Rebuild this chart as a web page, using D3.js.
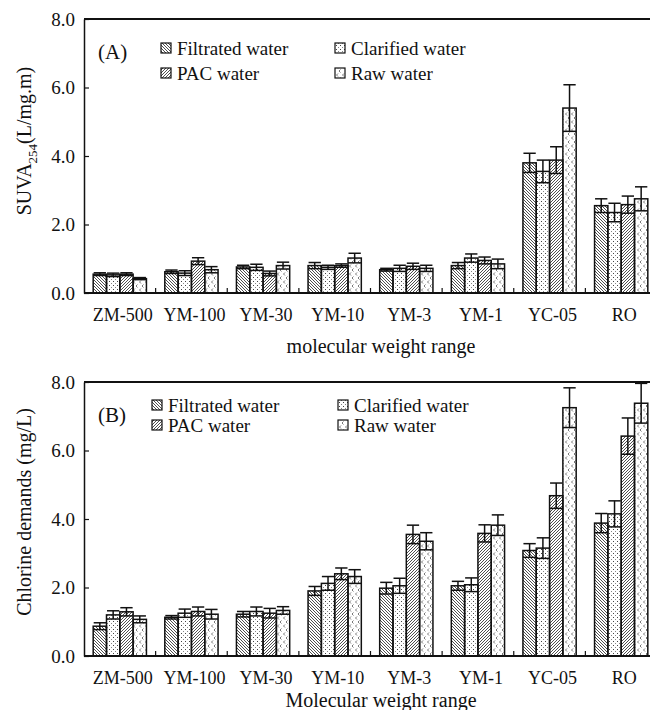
<!DOCTYPE html>
<html>
<head>
<meta charset="utf-8">
<script src="https://cdn.jsdelivr.net/npm/d3@7"></script>
<style>
	body { margin: 0; background: #fff; }
	svg { display: block; }
	svg text { font-family: "Liberation Serif", "Times New Roman", Times, serif; }
</style>
</head>
<body>
<svg id="chart" width="650" height="710"></svg>
<script>
var categories = ["ZM-500", "YM-100", "YM-30", "YM-10", "YM-3", "YM-1", "YC-05", "RO"];
var seriesNames = ["Filtrated water", "Clarified water", "PAC water", "Raw water"];
var yTicks = [0, 2, 4, 6, 8];

// panel A : SUVA254
var suvaFiltrated = [0.55, 0.62, 0.76, 0.80, 0.68, 0.80, 3.80, 2.55];
var suvaClarified = [0.53, 0.58, 0.75, 0.75, 0.72, 1.02, 3.55, 2.35];
var suvaPac = [0.55, 0.93, 0.57, 0.80, 0.78, 0.95, 3.88, 2.58];
var suvaRaw = [0.42, 0.68, 0.80, 1.02, 0.72, 0.85, 5.40, 2.75];
var suvaErrFiltrated = [0.04, 0.05, 0.05, 0.09, 0.04, 0.09, 0.28, 0.20];
var suvaErrClarified = [0.05, 0.07, 0.09, 0.06, 0.09, 0.12, 0.33, 0.27];
var suvaErrPac = [0.04, 0.10, 0.07, 0.05, 0.09, 0.10, 0.39, 0.25];
var suvaErrRaw = [0.03, 0.09, 0.10, 0.14, 0.09, 0.14, 0.68, 0.35];

// panel B : chlorine demand
var clFiltrated = [0.87, 1.13, 1.22, 1.90, 1.98, 2.05, 3.08, 3.88];
var clClarified = [1.20, 1.25, 1.30, 2.12, 2.05, 2.08, 3.15, 4.15];
var clPac = [1.29, 1.30, 1.25, 2.40, 3.55, 3.58, 4.68, 6.42];
var clRaw = [1.07, 1.22, 1.33, 2.32, 3.35, 3.82, 7.25, 7.38];
var clErrFiltrated = [0.10, 0.05, 0.08, 0.13, 0.17, 0.13, 0.20, 0.28];
var clErrClarified = [0.12, 0.12, 0.13, 0.20, 0.22, 0.20, 0.30, 0.38];
var clErrPac = [0.12, 0.13, 0.14, 0.17, 0.27, 0.25, 0.37, 0.53];
var clErrRaw = [0.10, 0.14, 0.11, 0.20, 0.25, 0.30, 0.58, 0.58];

var svg = d3.select("#chart");
var left = 84, right = 657, edge = 650;
var serif = "Liberation Serif, Times New Roman, Times, serif";

function makePatterns() {
	var defs = svg.append("defs");

	var p1 = defs.append("pattern").attr("id", "pat0")
		.attr("patternUnits", "userSpaceOnUse").attr("width", 3).attr("height", 3);
	p1.append("path").attr("d", "M-1,-1 L4,4 M-1,2 L1,4 M2,-1 L4,1")
		.attr("stroke", "#222").attr("stroke-width", 0.8);

	var p2 = defs.append("pattern").attr("id", "pat1")
		.attr("patternUnits", "userSpaceOnUse").attr("width", 4).attr("height", 4);
	p2.append("rect").attr("x", 1).attr("y", 1).attr("width", 1).attr("height", 1).attr("fill", "#444");
	p2.append("rect").attr("x", 3).attr("y", 3).attr("width", 1).attr("height", 1).attr("fill", "#888");

	var p3 = defs.append("pattern").attr("id", "pat2")
		.attr("patternUnits", "userSpaceOnUse").attr("width", 3).attr("height", 3);
	p3.append("path").attr("d", "M-1,4 L4,-1 M-1,1 L1,-1 M2,4 L4,2")
		.attr("stroke", "#222").attr("stroke-width", 0.8);

	var p4 = defs.append("pattern").attr("id", "pat3")
		.attr("patternUnits", "userSpaceOnUse").attr("width", 6).attr("height", 8);
	p4.append("path").attr("d", "M3,0.5 L1.5,2 L3,3.5 M5.5,4.5 L4,6 L5.5,7.5")
		.attr("stroke", "#555").attr("stroke-width", 0.8).attr("fill", "none");
}

function buildPanel(opts) {
	var g = svg.append("g").attr("class", "panel").attr("font-family", serif);

	var y = d3.scaleLinear().domain([0, 8]).range([opts.bottom, opts.top]);
	var x = d3.scaleBand().domain(categories).range([left, right]).padding(0);
	var xs = d3.scaleBand().domain(seriesNames).range([0, x.bandwidth()])
		.paddingInner(0).paddingOuter(0.69);

	var rows = [];
	categories.forEach(function(c, i) {
		opts.values.forEach(function(vals, s) {
			rows.push({ cat: c, series: s, name: seriesNames[s], v: vals[i], e: opts.errors[s][i] });
		});
	});

	// bars
	g.append("g").selectAll("rect")
		.data(rows)
		.enter()
		.append("rect")
		.attr("x", function(d) { return x(d.cat) + xs(d.name); })
		.attr("y", function(d) { return y(d.v); })
		.attr("width", xs.bandwidth())
		.attr("height", function(d) { return y(0) - y(d.v); })
		.attr("fill", function(d) { return "url(#pat" + d.series + ")"; })
		.attr("stroke", "#111")
		.attr("stroke-width", 1.5);

	// error bars (the lower cap sits inside the bar)
	var eb = g.append("g").selectAll("g")
		.data(rows)
		.enter()
		.append("g")
		.attr("stroke", "#111")
		.attr("stroke-width", 1.5);

	eb.append("line")
		.attr("x1", function(d) { return x(d.cat) + xs(d.name) + xs.bandwidth() / 2; })
		.attr("x2", function(d) { return x(d.cat) + xs(d.name) + xs.bandwidth() / 2; })
		.attr("y1", function(d) { return y(d.v - d.e); })
		.attr("y2", function(d) { return y(d.v + d.e); });
	eb.append("line")
		.attr("x1", function(d) { return x(d.cat) + xs(d.name) + 0.5; })
		.attr("x2", function(d) { return x(d.cat) + xs(d.name) + xs.bandwidth() - 0.5; })
		.attr("y1", function(d) { return y(d.v + d.e); })
		.attr("y2", function(d) { return y(d.v + d.e); });
	eb.append("line")
		.attr("x1", function(d) { return x(d.cat) + xs(d.name); })
		.attr("x2", function(d) { return x(d.cat) + xs(d.name) + xs.bandwidth(); })
		.attr("y1", function(d) { return y(d.v - d.e); })
		.attr("y2", function(d) { return y(d.v - d.e); });

	// axes
	var yAxis = d3.axisLeft(y).tickValues(yTicks)
		.tickFormat(d3.format(".1f"))
		.tickSizeInner(-5).tickSizeOuter(0).tickPadding(9);
	var ya = g.append("g").attr("transform", "translate(" + left + ",0)").call(yAxis)
		.attr("font-family", serif);
	ya.select(".domain").attr("stroke", "#111").attr("stroke-width", 1.5);
	ya.selectAll(".tick line").attr("stroke", "#111").attr("stroke-width", 1.2);
	ya.selectAll("text").attr("font-size", 19).attr("fill", "#111");

	var xAxis = d3.axisBottom(x).tickSize(0).tickPadding(15);
	var xa = g.append("g").attr("transform", "translate(0," + opts.bottom + ")").call(xAxis)
		.attr("font-family", serif);
	xa.select(".domain").remove();
	xa.selectAll("text").attr("font-size", 18).attr("fill", "#111")
		.attr("dx", 3);

	// inward ticks between groups
	g.append("g").selectAll("line")
		.data(categories.slice(1))
		.enter()
		.append("line")
		.attr("x1", function(d) { return x(d); })
		.attr("x2", function(d) { return x(d); })
		.attr("y1", opts.bottom)
		.attr("y2", opts.bottom - 5)
		.attr("stroke", "#111").attr("stroke-width", 1.2);

	g.append("line")
		.attr("x1", left).attr("x2", edge)
		.attr("y1", opts.bottom).attr("y2", opts.bottom)
		.attr("stroke", "#111").attr("stroke-width", 1.8);
	g.append("line")
		.attr("x1", left).attr("x2", edge)
		.attr("y1", opts.top).attr("y2", opts.top)
		.attr("stroke", "#111").attr("stroke-width", 1.8);

	// panel letter
	g.append("text")
		.attr("x", 98).attr("y", opts.top + 33)
		.attr("dy", "0.35em")
		.attr("font-size", 21).attr("fill", "#111")
		.text(opts.letter);

	// legend
	var legend = g.append("g").selectAll("g")
		.data(seriesNames)
		.enter()
		.append("g")
		.attr("transform", function(d, i) {
			var lx = i % 2 === 0 ? opts.legendX[0] : opts.legendX[1];
			var ly = i < 2 ? opts.legendY[0] : opts.legendY[1];
			return "translate(" + lx + "," + ly + ")";
		});
	legend.append("rect")
		.attr("x", 0).attr("y", -5).attr("width", 10).attr("height", 10)
		.attr("fill", function(d, i) { return "url(#pat" + i + ")"; })
		.attr("stroke", "#111").attr("stroke-width", 1.2);
	legend.append("text")
		.attr("x", 16).attr("dy", "0.35em")
		.attr("font-size", 19).attr("fill", "#111")
		.text(function(d) { return d; });

	// axis titles
	g.append("text")
		.attr("x", 381).attr("y", opts.xTitleY)
		.attr("dy", "0.35em")
		.attr("text-anchor", "middle")
		.attr("font-size", 20).attr("fill", "#111")
		.text(opts.xTitle);

	var yt = g.append("text")
		.attr("transform", "translate(24," + opts.yTitleY + ") rotate(-90)")
		.attr("text-anchor", "middle")
		.attr("dy", "0.35em")
		.attr("font-size", 20).attr("fill", "#111");
	opts.yTitle(yt);

	return g;
}

makePatterns();

buildPanel({
	top: 19, bottom: 293, letter: "(A)",
	values: [suvaFiltrated, suvaClarified, suvaPac, suvaRaw],
	errors: [suvaErrFiltrated, suvaErrClarified, suvaErrPac, suvaErrRaw],
	legendX: [161, 335], legendY: [48, 73],
	xTitle: "molecular weight range", xTitleY: 346,
	yTitleY: 141,
	yTitle: function(t) {
		t.append("tspan").text("SUVA");
		t.append("tspan").attr("font-size", 13).attr("dy", "0.45em").text("254");
		t.append("tspan").attr("dy", "-0.3em").text("(L/mg.m)");
	}
});

buildPanel({
	top: 382, bottom: 656, letter: "(B)",
	values: [clFiltrated, clClarified, clPac, clRaw],
	errors: [clErrFiltrated, clErrClarified, clErrPac, clErrRaw],
	legendX: [152, 338], legendY: [405, 425],
	xTitle: "Molecular weight range", xTitleY: 700,
	yTitleY: 512,
	yTitle: function(t) {
		t.text("Chlorine demands (mg/L)");
	}
});
</script>
</body>
</html>
